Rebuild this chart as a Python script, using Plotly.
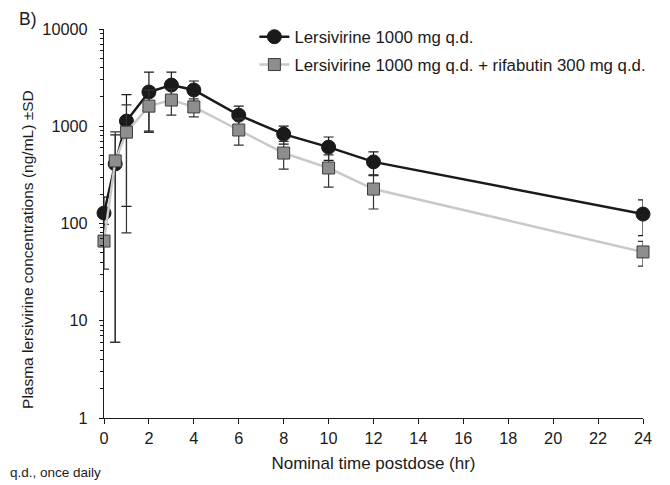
import plotly.graph_objects as go

# Nominal sampling times (hr)
time_hr = [0, 0.5, 1, 2, 3, 4, 6, 8, 10, 12, 24]

# Lersivirine 1000 mg q.d. alone: mean and SD (ng/mL)
lers_mean = [128, 410, 1130, 2250, 2650, 2360, 1300, 830, 610, 430, 125]
lers_sd = [59, 404, 980, 1360, 960, 560, 310, 175, 165, 114, 50]

# Lersivirine 1000 mg q.d. + rifabutin 300 mg q.d.: mean and SD (ng/mL)
combo_mean = [66, 440, 870, 1610, 1860, 1580, 915, 530, 372, 226, 51]
combo_sd = [32, 434, 790, 745, 557, 333, 274, 168, 135, 85, 14.5]

# Axis ticks
x_ticks = list(range(0, 25, 2))
y_ticks = [1, 10, 100, 1000, 10000]
y_tick_text = ["1", "10", "100", "1000", "10000"]
y_minor = [m * 10 ** d for d in range(4) for m in range(2, 10)]

FONT = "Liberation Sans, Arial, Helvetica, sans-serif"
AXIS = "#1a1a1a"

fig = go.Figure()

fig.add_trace(go.Scatter(
    x=time_hr, y=lers_mean, mode="lines+markers",
    name="Lersivirine 1000 mg q.d.", legendgroup="a",
    line=dict(color="#1a1a1a", width=2.5),
    marker=dict(symbol="circle", size=14, color="#1a1a1a",
                line=dict(color="#1a1a1a", width=1)),
    error_y=dict(type="data", array=lers_sd, visible=True,
                 color="#1a1a1a", thickness=1.2, width=5),
    cliponaxis=False,
))

fig.add_trace(go.Scatter(
    x=time_hr, y=combo_mean, mode="lines+markers",
    name="Lersivirine 1000 mg q.d. + rifabutin 300 mg q.d.", legendgroup="b",
    line=dict(color="#c9c9c9", width=2.5),
    marker=dict(symbol="square", size=12, color="#8e8e8e",
                line=dict(color="#3c3c3c", width=1)),
    error_y=dict(type="data", array=combo_sd, visible=True,
                 color="#333333", thickness=1.2, width=5),
    cliponaxis=False,
))

fig.update_layout(
    width=670, height=485,
    margin=dict(l=104, r=27, t=29, b=67),
    paper_bgcolor="white", plot_bgcolor="white",
    font=dict(family=FONT, size=16, color="#1a1a1a"),
    showlegend=True,
    legend=dict(x=0.279, y=1.025, xanchor="left", yanchor="top",
                bgcolor="rgba(0,0,0,0)", font=dict(size=16.8),
                traceorder="grouped", tracegroupgap=3, itemwidth=30),
    xaxis=dict(
        range=[0, 24], tickmode="array", tickvals=x_ticks,
        showline=True, linecolor=AXIS, linewidth=1.2,
        ticks="outside", ticklen=5, tickcolor=AXIS, tickwidth=1,
        showgrid=False, zeroline=False,
        tickfont=dict(size=16.3),
        title=dict(text="Nominal time postdose (hr)",
                   font=dict(size=17), standoff=11),
    ),
    yaxis=dict(
        type="log", range=[0, 4], tickmode="array",
        tickvals=y_ticks, ticktext=y_tick_text,
        showline=True, linecolor=AXIS, linewidth=1.2,
        ticks="outside", ticklen=4, tickcolor=AXIS, tickwidth=1,
        minor=dict(tickmode="array", tickvals=y_minor, ticks="outside",
                   ticklen=3, tickcolor=AXIS, tickwidth=1, showgrid=False),
        showgrid=False, zeroline=False,
        tickfont=dict(size=16.3), ticklabelstandoff=8,
    ),
    # companion axis so the y ticks cross the axis line
    yaxis2=dict(
        type="log", range=[0, 4], overlaying="y", anchor="x", side="left",
        tickmode="array", tickvals=y_ticks, showticklabels=False,
        ticks="inside", ticklen=3, tickcolor=AXIS, tickwidth=1,
        minor=dict(tickmode="array", tickvals=y_minor, ticks="inside",
                   ticklen=3, tickcolor=AXIS, tickwidth=1, showgrid=False),
        showline=False, showgrid=False, zeroline=False,
    ),
    annotations=[
        # y-axis title, set a little below the plot's mid-height
        dict(text="Plasma lersivirine concentrations (ng/mL) \u00b1SD",
             xref="paper", yref="paper", x=-0.141, y=0.432,
             xanchor="center", yanchor="middle", textangle=-90,
             showarrow=False, font=dict(size=15.5)),
        dict(text="B)", xref="paper", yref="paper", x=-0.162, y=1.025,
             xanchor="left", yanchor="middle", showarrow=False,
             font=dict(size=17.5)),
        dict(text="q.d., once daily", xref="paper", yref="paper",
             x=-0.178, y=-0.14, xanchor="left", yanchor="middle",
             showarrow=False, font=dict(size=13.5)),
    ],
)

fig.write_html("out.html")
